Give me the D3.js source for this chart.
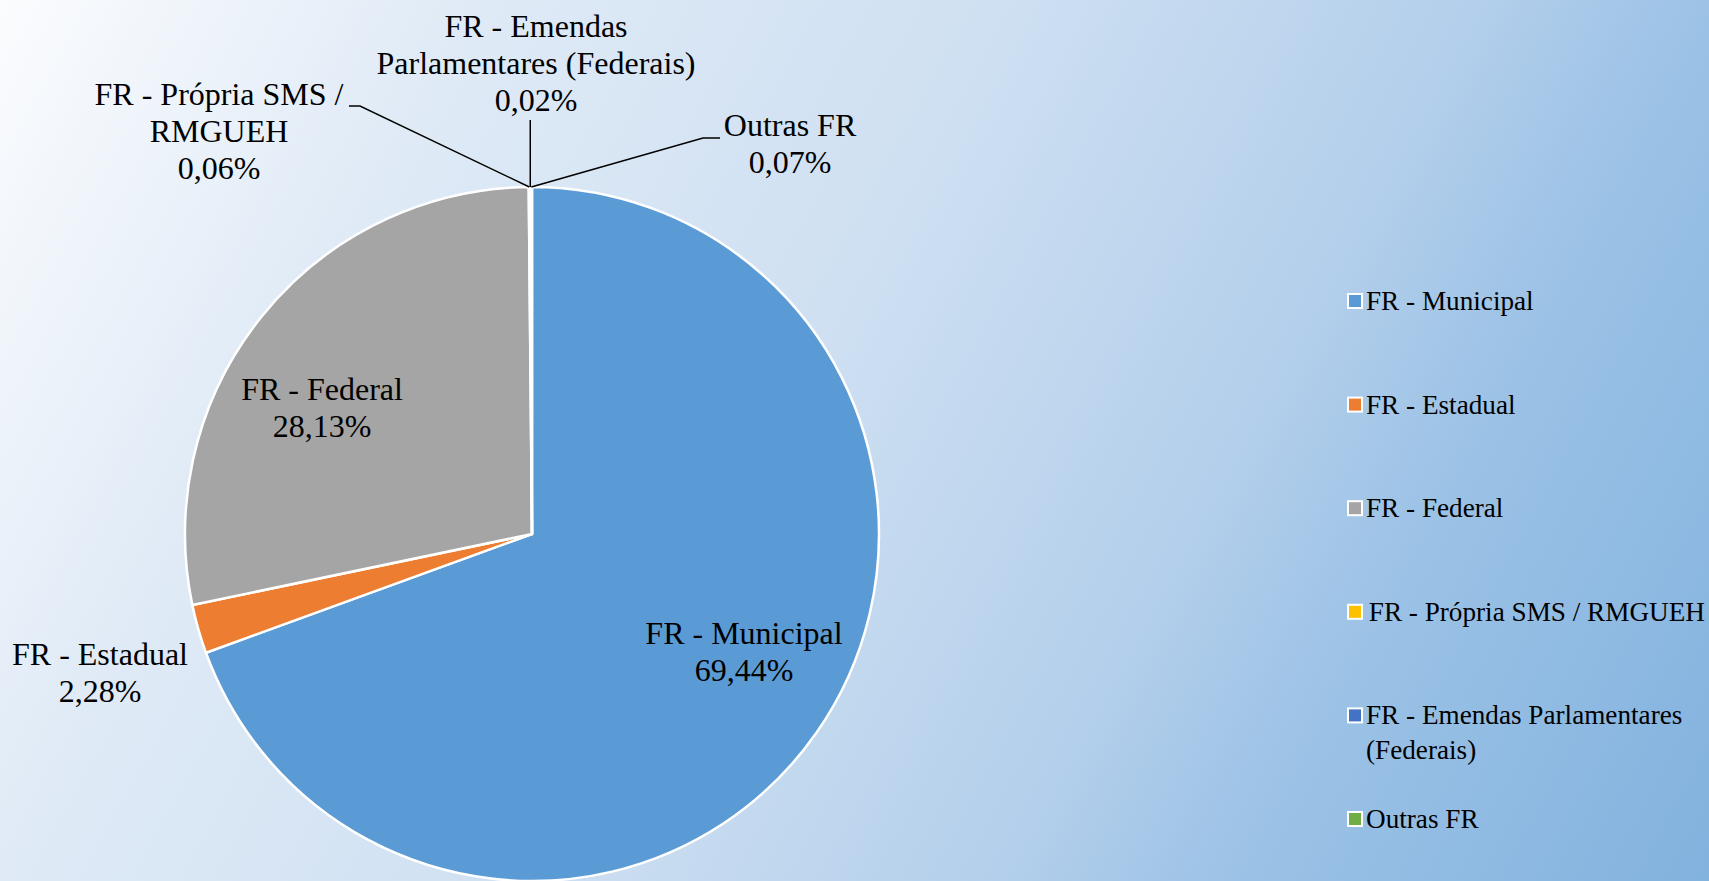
<!DOCTYPE html>
<html>
<head>
<meta charset="utf-8">
<script src="https://cdn.jsdelivr.net/npm/d3@7"></script>
<style>
html,body{margin:0;padding:0;overflow:hidden;}
svg{display:block;}
</style>
</head>
<body>
<svg id="chart" width="1709" height="881" font-family="'Liberation Serif', 'Times New Roman', Times, 'DejaVu Serif', serif"></svg>
<script>
// ---- data ----
const categories = ["FR - Municipal","FR - Estadual","FR - Federal","FR - Própria SMS / RMGUEH","FR - Emendas Parlamentares (Federais)","Outras FR"];
const values = [69.44, 2.28, 28.13, 0.06, 0.02, 0.07];
const colors = ["#5B9BD5","#ED7D31","#A5A5A5","#FFC000","#4472C4","#70AD47"];
const dataLabelLines = [["FR - Municipal"],["FR - Estadual"],["FR - Federal"],["FR - Própria SMS /","RMGUEH"],["FR - Emendas","Parlamentares (Federais)"],["Outras FR"]];
const legendLines = [["FR - Municipal"],["FR - Estadual"],["FR - Federal"],[" FR - Própria SMS / RMGUEH"],["FR - Emendas Parlamentares","(Federais)"],["Outras FR"]];

// ---- layout (style) ----
const W = 1709, H = 881;
const cx = 532, cy = 534, R = 347;
const labelPos = [
  {x:744, y:644},
  {x:100, y:665},
  {x:322, y:400},
  {x:219, y:105},
  {x:536, y:37},
  {x:790, y:136}
];
const legendTextX = [1366, 1366, 1366, 1362, 1366, 1366];
const fmt = v => v.toFixed(2).replace('.', ',') + '%';

const svg = d3.select("#chart");
const defs = svg.append("defs");
const grad = defs.append("linearGradient").attr("id","bg")
  .attr("gradientUnits","userSpaceOnUse")
  .attr("x1",0).attr("y1",0).attr("x2",1687).attr("y2",920);
[[0,"#fbfcfe"],[0.22,"#dfeaf6"],[0.457,"#cfe0f2"],[0.676,"#b3cfeb"],[0.781,"#9cc2e6"],[1,"#82b2de"]]
  .forEach(([o,c]) => grad.append("stop").attr("offset",o).attr("stop-color",c));
svg.append("rect").attr("width",W).attr("height",H).attr("fill","url(#bg)");

const pie = d3.pie().sort(null).value(d => d.value);
const data = categories.map((c,i) => ({cat:c, value:values[i], color:colors[i], i}));
const arcs = pie(data);
const arc = d3.arc().innerRadius(0).outerRadius(R);

const g = svg.append("g").attr("transform",`translate(${cx},${cy})`);
g.selectAll("path").data(arcs).enter().append("path")
  .attr("d", arc)
  .attr("fill", d => d.data.color)
  .attr("stroke", "#fff")
  .attr("stroke-width", 2.5)
  .attr("stroke-linejoin","round");

// leader lines for tiny slices
function edgePoint(d){
  const a = (d.startAngle + d.endAngle)/2;
  return [cx + R*Math.sin(a), cy - R*Math.cos(a)];
}
const leaders = {
  3: p => [[349,106],[360,106],p],
  4: p => [[p[0],120],p],
  5: p => [p,[703,138],[720,138]]
};
Object.keys(leaders).forEach(k => {
  const p = edgePoint(arcs[k]);
  const pts = leaders[k](p);
  svg.append("path").attr("d", d3.line()(pts))
    .attr("fill","none").attr("stroke","#000").attr("stroke-width",1.5);
});

// data labels
const labels = svg.append("g").attr("font-size","32px").attr("text-anchor","middle");
data.forEach((d,i) => {
  const lines = dataLabelLines[i].concat([fmt(d.value)]);
  const t = labels.append("text").attr("x",labelPos[i].x).attr("y",labelPos[i].y).attr("fill","#000");
  lines.forEach((ln,j) => t.append("tspan").attr("x",labelPos[i].x).attr("dy", j===0?0:37).text(ln));
});

// legend
const lg = svg.append("g").attr("font-size","27.2px");
data.forEach((d,i) => {
  const by = 310 + i*103.6;
  lg.append("rect").attr("x",1348).attr("y",by-16).attr("width",14).attr("height",14)
    .attr("fill",d.color).attr("stroke","#fff").attr("stroke-width",2);
  const t = lg.append("text").attr("x",legendTextX[i]).attr("y",by).attr("fill","#000").style("white-space","pre");
  legendLines[i].forEach((ln,j) => t.append("tspan").attr("x",legendTextX[i]).attr("dy", j===0?0:35).text(ln));
});
</script>
</body>
</html>
